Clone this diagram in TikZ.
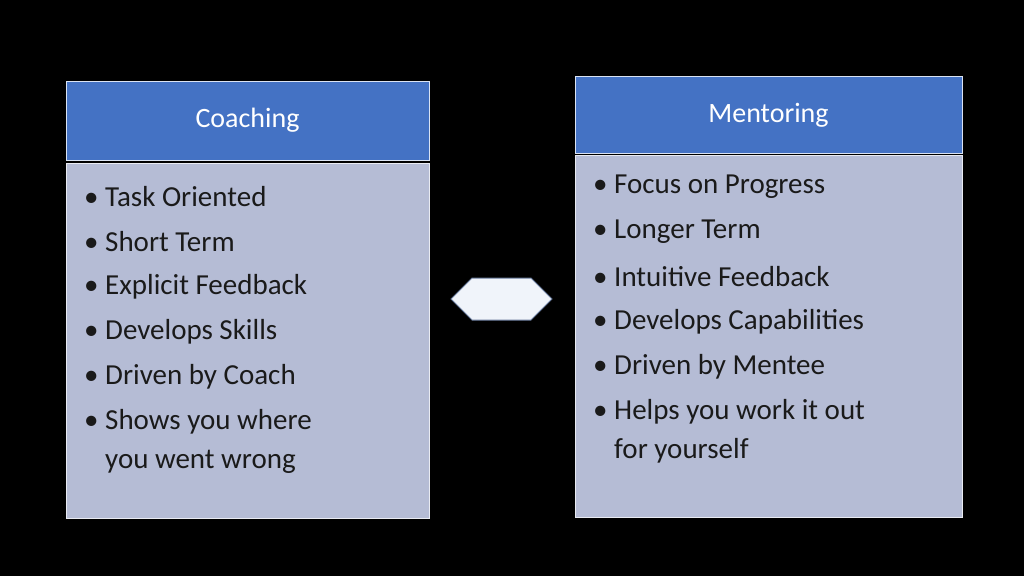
\documentclass[tikz,border=0pt]{standalone}
\usepackage{fontspec}
\setmainfont{Carlito}
\usetikzlibrary{shapes.arrows}
\definecolor{hdr}{HTML}{4472C4}
\definecolor{bdy}{HTML}{B5BCD5}
\definecolor{txt}{HTML}{1A1A1A}
\tikzset{
 hbox/.style={fill=hdr,draw=white!80!hdr,line width=1pt},
 bbox/.style={fill=bdy,draw=white!70!bdy,line width=1pt},
 htext/.style={text=white,font=\fontsize{28}{32}\selectfont},
 item/.style={anchor=west,text=txt,font=\fontsize{29}{33}\selectfont,inner sep=0pt}
}
\begin{document}
\begin{tikzpicture}[x=1pt,y=-1pt]
\fill[black] (0,0) rectangle (1024,576);
\useasboundingbox (0,0) rectangle (1024,576);
\draw[hbox] (66,81) rectangle (429,160);
\draw[bbox] (66,163) rectangle (429,518);
\node[htext] (ch) at (247.5,120) {Coaching};
\draw[hbox] (575,76) rectangle (962,153);
\draw[bbox] (575,155) rectangle (962,517);
\node[htext] (mh) at (768.5,115) {Mentoring};
\foreach \t [count=\i] in {Task Oriented,Short Term,Explicit Feedback,Develops Skills,Driven by Coach,Shows you where}{
 \node[item] (l\i) at (84,152+45*\i) {\textbullet\ \t};}
\node[item] (l7) at (105,462) {you went wrong};
\foreach \t [count=\i] in {Focus on Progress,Longer Term,Intuitive Feedback,Develops Capabilities,Driven by Mentee,Helps you work it out}{
 \node[item] (r\i) at (593,142+45*\i) {\textbullet\ \t};}
\node[item] (r7) at (614,451) {for yourself};
\node[double arrow,draw=gray!60!hdr,fill=white!92!hdr,minimum height=101pt,minimum width=42pt,double arrow head extend=0pt,inner sep=0pt,line width=1pt,shape border uses incircle,single arrow head indent=0pt] (arr) at (501.5,299) {};
\end{tikzpicture}
\end{document}
